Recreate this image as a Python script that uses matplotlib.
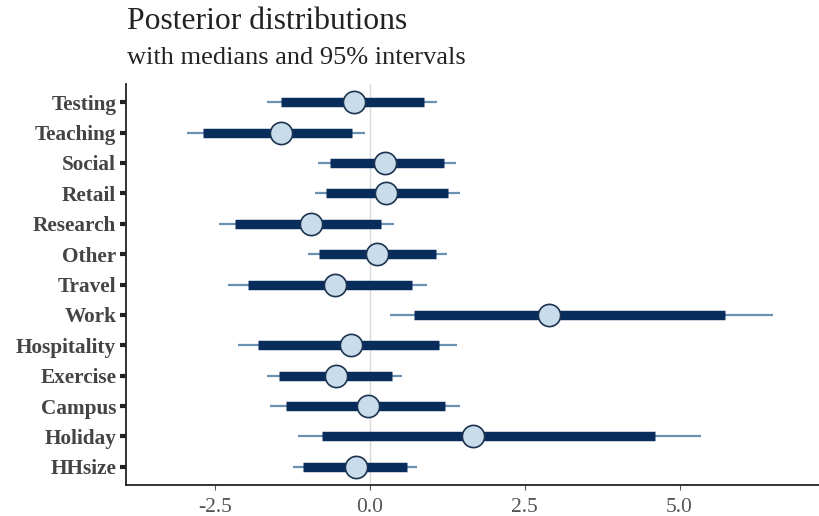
import matplotlib
matplotlib.use("Agg")
import matplotlib.pyplot as plt

categories = ["Testing", "Teaching", "Social", "Retail", "Research", "Other", "Travel",
              "Work", "Hospitality", "Exercise", "Campus", "Holiday", "HHsize"]
median = [-0.26, -1.43, 0.25, 0.26, -0.95, 0.11, -0.57, 2.89, -0.30, -0.55, -0.04, 1.66, -0.23]
inner_lo = [-1.43, -2.70, -0.65, -0.71, -2.18, -0.82, -1.97, 0.71, -1.81, -1.47, -1.35, -0.77, -1.08]
inner_hi = [0.87, -0.29, 1.20, 1.26, 0.18, 1.06, 0.68, 5.74, 1.12, 0.36, 1.21, 4.60, 0.60]
outer_lo = [-1.67, -2.96, -0.84, -0.89, -2.44, -1.00, -2.29, 0.33, -2.14, -1.66, -1.61, -1.17, -1.25]
outer_hi = [1.09, -0.08, 1.39, 1.46, 0.38, 1.24, 0.92, 6.51, 1.41, 0.52, 1.45, 5.35, 0.76]
xticks = [-2.5, 0.0, 2.5, 5.0]
xticklabels = ["-2.5", "0.0", "2.5", "5.0"]

plt.rcParams['font.family'] = ['Liberation Serif', 'DejaVu Serif']

fig = plt.figure(figsize=(8.19, 5.16), dpi=100)
ax = fig.add_axes([126/819, 31/516, 1 - 126/819, 401/516])

n = len(categories)
ys = list(range(n - 1, -1, -1))

ax.axvline(0, color="#d9d9d9", lw=1.0, zorder=0)
for y, m, il, ih, ol, oh in zip(ys, median, inner_lo, inner_hi, outer_lo, outer_hi):
    ax.plot([ol, oh], [y, y], color="#6a90b2", lw=1.6, solid_capstyle="butt", zorder=1)
    ax.plot([il, ih], [y, y], color="#082c5c", lw=6.8, solid_capstyle="butt", zorder=2)
    ax.plot([m], [y], marker="o", ms=16, markerfacecolor="#c9dcec",
            markeredgecolor="#1c3350", markeredgewidth=1.2, zorder=3)

ax.set_yticks(ys)
ax.set_yticklabels(categories, fontsize=15.3, fontweight="bold", color="#444444")
ax.set_xticks(xticks)
ax.set_xticklabels(xticklabels, fontsize=15.5, color="#555555")
ax.set_ylim(-0.6, n - 1 + 0.6)
ax.set_xlim((126 - 370) / 61.9, (819 - 370) / 61.9)

for s in ["top", "right"]:
    ax.spines[s].set_visible(False)
for s in ["left", "bottom"]:
    ax.spines[s].set_color("#222222")
    ax.spines[s].set_linewidth(1.3)
ax.tick_params(axis="y", length=4, width=3, color="#222222", pad=3)
ax.tick_params(axis="x", length=3.5, width=0.8, color="#555555", pad=6)

fig.text(127/819, 1 - 29/516, "Posterior distributions", fontsize=22.8, color="#222222")
fig.text(127/819, 1 - 64/516, "with medians and 95% intervals", fontsize=19, color="#222222")

fig.savefig("out.png", dpi=100)
